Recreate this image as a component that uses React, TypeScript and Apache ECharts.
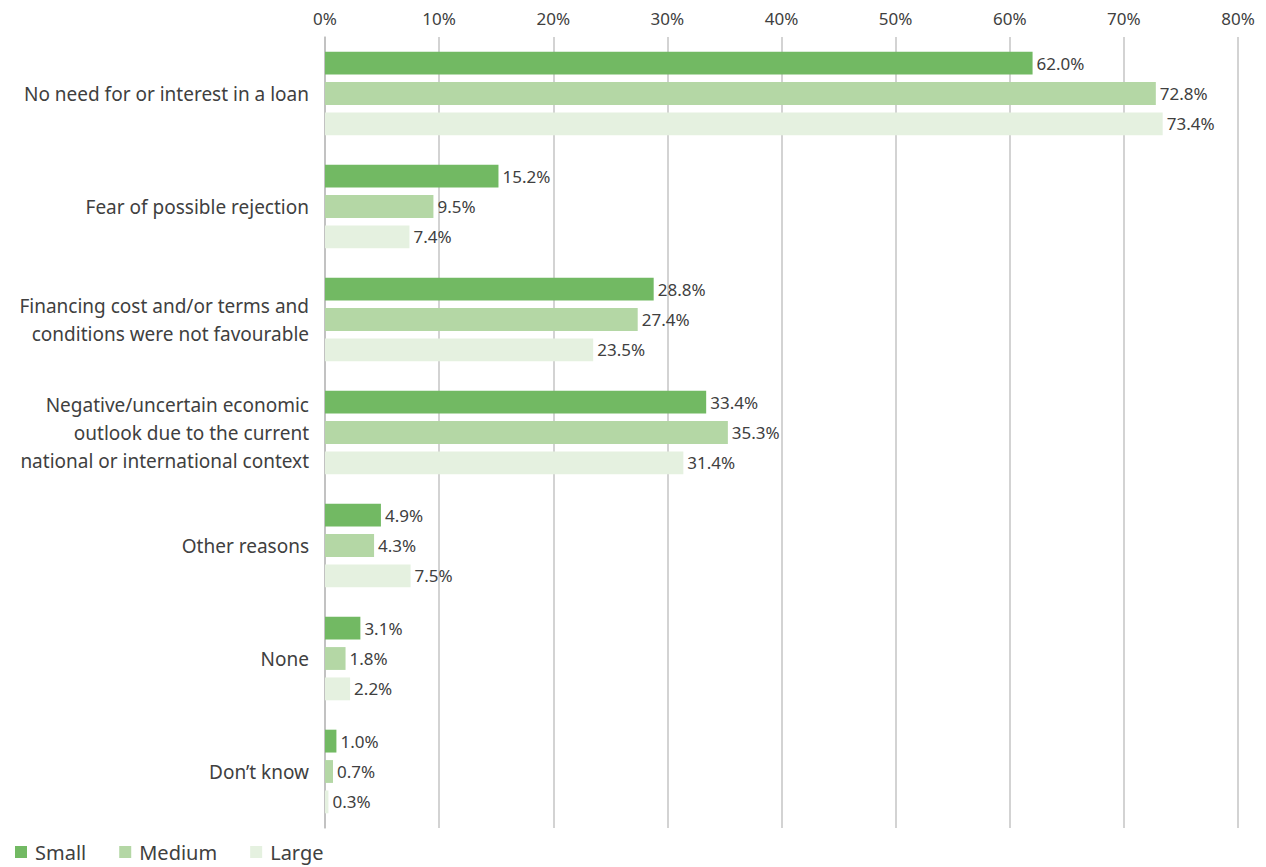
import React, { useEffect, useRef } from "react";
import * as echarts from "echarts";

const categories = [
  "No need for or interest in a loan",
  "Fear of possible rejection",
  "Financing cost and/or terms and\nconditions were not favourable",
  "Negative/uncertain economic\noutlook due to the current\nnational or international context",
  "Other reasons",
  "None",
  "Don’t know",
];
const seriesNames = ["Small", "Medium", "Large"];
const small = [62.0, 15.2, 28.8, 33.4, 4.9, 3.1, 1.0];
const medium = [72.8, 9.5, 27.4, 35.3, 4.3, 1.8, 0.7];
const large = [73.4, 7.4, 23.5, 31.4, 7.5, 2.2, 0.3];
const colors = ["#72b963", "#b4d7a5", "#e5f1e0"];

const FONT = "'Noto Sans', sans-serif";

export default function App() {
  const ref = useRef<HTMLDivElement>(null);
  useEffect(() => {
    if (!ref.current) return;
    const chart = echarts.init(ref.current, null, { renderer: "svg" });
    const values = [small, medium, large];
    chart.setOption({
      animation: false,
      textStyle: { fontFamily: FONT },
      grid: { left: 317, right: 20, top: 29, bottom: 39, containLabel: false },
      legend: {
        left: 2,
        bottom: 0,
        itemWidth: 12,
        itemHeight: 12,
        itemGap: 33,
        icon: "rect",
        textStyle: { fontSize: 20, color: "#404040", fontFamily: FONT, padding: [0, 0, 0, 3] },
        data: seriesNames,
      },
      xAxis: {
        type: "value",
        position: "top",
        min: 0,
        max: 80,
        interval: 10,
        axisLine: { show: false },
        axisTick: { show: false },
        axisLabel: {
          formatter: (v: number) => v + "%",
          fontSize: 17,
          color: "#404040",
          margin: 10,
        },
        splitLine: { show: true, lineStyle: { color: "#c4c4c4", width: 1.5 } },
      },
      yAxis: {
        type: "category",
        inverse: true,
        data: categories,
        axisLine: { show: true, lineStyle: { color: "#bcbcbc", width: 1.5 } },
        axisTick: { show: false },
        axisLabel: {
          fontSize: 19,
          color: "#404040",
          margin: 16,
          lineHeight: 28,
          align: "right",
        },
      },
      series: seriesNames.map((name, i) => ({
        name,
        type: "bar",
        data: values[i],
        barGap: "33%",
        barCategoryGap: "26%",
        itemStyle: { color: colors[i] },
        label: {
          show: true,
          position: "right",
          distance: 4,
          fontSize: 17,
          color: "#404040",
          formatter: (p: any) => Number(p.value).toFixed(1) + "%",
        },
      })),
    });
    return () => chart.dispose();
  }, []);
  return <div ref={ref} style={{ width: 1250, height: 859 }} />;
}
